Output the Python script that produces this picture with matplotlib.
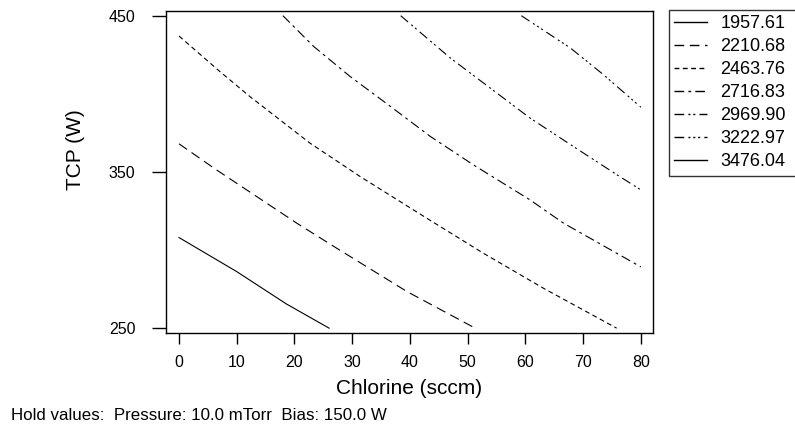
import matplotlib
matplotlib.use("Agg")
import matplotlib.pyplot as plt

plt.rcParams['font.family'] = ['Liberation Sans', 'DejaVu Sans']
plt.rcParams['lines.scale_dashes'] = False

# contour levels (legend)
levels = ["1957.61", "2210.68", "2463.76", "2716.83", "2969.90", "3222.97", "3476.04"]

# contour lines: Chlorine (sccm), TCP (W)
c1_x = [0, 10, 18.6, 26]
c1_y = [308, 286.2, 265.5, 250]
c2_x = [0, 6.5, 20.4, 27.3, 39.5, 51.3]
c2_y = [368, 351.3, 317.2, 301.2, 273.4, 250]
c3_x = [0, 7.1, 12.3, 22.7, 31.4, 42.9, 52.7, 63.1, 75.8]
c3_y = [437, 414.2, 398.2, 368.4, 347, 320.4, 298, 275.6, 250]
c4_x = [18, 23.3, 29.6, 36.6, 43.5, 51, 60.8, 66.6, 80]
c4_y = [450, 430.4, 411.2, 392, 372.8, 354.5, 332.1, 317.2, 289.2]
c5_x = [38.4, 47, 53.9, 60.8, 67.8, 75.8, 80]
c5_y = [450, 422.9, 403.7, 384.5, 367.5, 348.3, 338.5]
c6_x = [59.3, 67.8, 73.5, 80]
c6_y = [450, 429.3, 412.3, 391.4]

xticks = [0, 10, 20, 30, 40, 50, 60, 70, 80]
yticks = [250, 350, 450]

styles = ['-', (0, (7, 4)), (0, (3.5, 2.5)), (0, (7, 3, 2, 3)),
          (0, (7, 3, 1.5, 2, 1.5, 3)), (0, (7, 3, 1.5, 2, 1.5, 2, 1.5, 3)), '-']

fig = plt.figure(figsize=(7.95, 4.28), dpi=100)
ax = fig.add_axes([166/795, 1-333/428, (653-166)/795, (333-10.7)/428])

lines_x = [c1_x, c2_x, c3_x, c4_x, c5_x, c6_x]
lines_y = [c1_y, c2_y, c3_y, c4_y, c5_y, c6_y]
for xs, ys, ls in zip(lines_x, lines_y, styles):
    ax.plot(xs, ys, color='black', lw=0.8, linestyle=ls)

handles = [plt.Line2D([], [], color='black', lw=1.0, linestyle=ls) for ls in styles]

ax.set_xlim(-2.25, 82.1)
ax.set_ylim(246.9, 453.2)
ax.set_xticks(xticks)
ax.set_yticks(yticks)
ax.tick_params(axis='x', direction='out', length=8, width=1, labelsize=11.5, pad=8)
ax.tick_params(axis='y', direction='out', length=10, width=1, labelsize=11.5, pad=12)
for s in ax.spines.values():
    s.set_linewidth(1.0)
    s.set_color('black')

ax.set_xlabel("Chlorine (sccm)", fontsize=15)
ax.xaxis.set_label_coords(0.5, -0.143)
ax.set_ylabel("TCP (W)", fontsize=15)
ax.yaxis.set_label_coords(-0.166, 0.568)

leg = fig.legend(handles, levels, loc='upper left',
                 bbox_to_anchor=(669/795, 0.0, 0.25, 1-10/428),
                 bbox_transform=fig.transFigure, mode='expand',
                 borderaxespad=0, fontsize=13, handlelength=1.8,
                 handletextpad=0.75, labelspacing=0.33, borderpad=0.3,
                 fancybox=False, frameon=True)
leg.get_frame().set_edgecolor('black')
leg.get_frame().set_linewidth(1.0)

fig.text(11/795, 1-416/428, "Hold values:  Pressure: 10.0 mTorr  Bias: 150.0 W",
         fontsize=12.2, va='center', ha='left')

fig.savefig("out.png", dpi=100)
